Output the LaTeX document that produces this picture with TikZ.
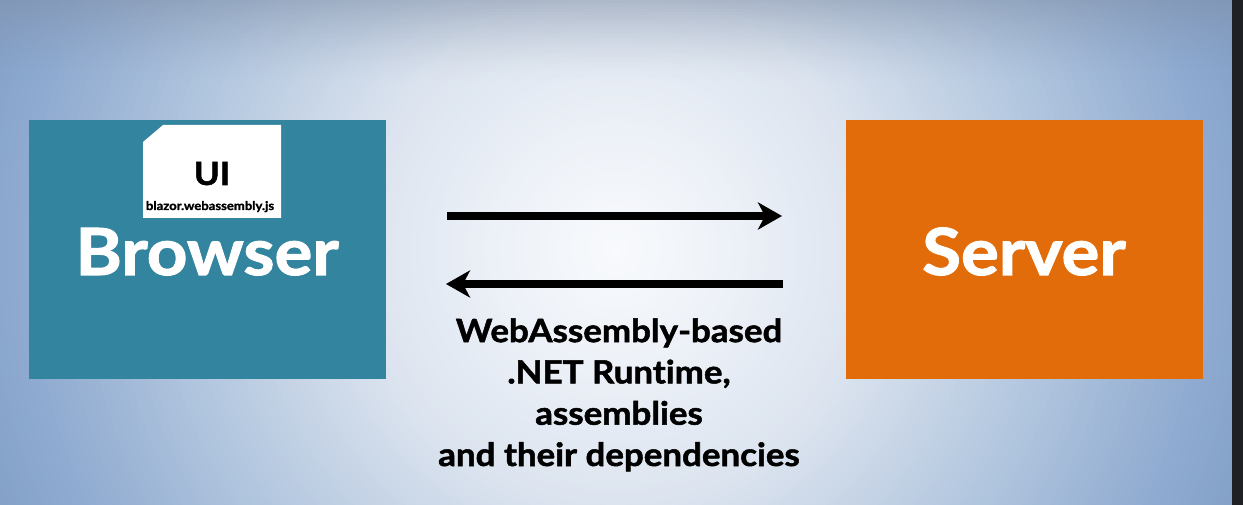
\documentclass[tikz,border=0pt]{standalone}
\usepackage{fontspec}
\setmainfont{Lato}[Ligatures=NoCommon]
\newfontfamily\heavyfont{Lato}[Ligatures=NoCommon, BoldFeatures={FakeBold=1.6, FakeStretch=1.09}]
\usetikzlibrary{arrows.meta}
\definecolor{browserc}{HTML}{33849E}
\definecolor{serverc}{HTML}{E36C0A}
\definecolor{stripc}{HTML}{1F2023}
\definecolor{bgA}{HTML}{F8FAFD}
\definecolor{bgB}{HTML}{EEF2F8}
\definecolor{bgC}{HTML}{DCE4EF}
\definecolor{bgD}{HTML}{B6C9E0}
\definecolor{bgE}{HTML}{8EAAD0}
\definecolor{bgF}{HTML}{7F9CC4}
\definecolor{topveil}{HTML}{7F8EA6}
\newcommand{\ringband}[4]{% outer radius, inner radius, outer colour, inner colour
  \foreach \t in {0,...,24}{%
    \pgfmathsetmacro\rr{#1-(#1-#2)*\t/24}%
    \pgfmathsetmacro\pp{100*\t/24}%
    \fill[#4!\pp!#3] (616,250) circle (\rr pt);}}
\tikzset{
  bigtxt/.style={text=white, font=\heavyfont\fontsize{65}{70}\selectfont\bfseries, anchor=base, inner sep=0pt},
  linktxt/.style={text=black, font=\heavyfont\fontsize{32}{41.3}\selectfont\bfseries, align=center, inner sep=0pt},
  flow/.style={line width=8pt, -{Stealth[length=24pt,width=27pt,inset=7pt]}}
}
\begin{document}
\begin{tikzpicture}[x=1pt,y=-1pt]
\useasboundingbox (0,0) rectangle (1243,505);
\begin{scope}
\clip (0,0) rectangle (1232,505);
\ringband{700}{600}{bgF}{bgE}
\ringband{600}{420}{bgE}{bgD}
\ringband{420}{255}{bgD}{bgC}
\ringband{255}{110}{bgC}{bgB}
\ringband{110}{0}{bgB}{bgA}
\foreach \k in {0,...,26}{%
  \pgfmathsetmacro\oo{0.5*(1-\k/27)^1.5}%
  \fill[topveil, opacity=\oo] (0,3*\k) rectangle (1232,3*\k+3);}
\end{scope}
\fill[stripc] (1232,0) rectangle (1243,505);
% boxes
\fill[browserc] (29,120) rectangle (386,379);
\fill[serverc] (846,120) rectangle (1203,379);
\node (browserbox) at (207.5,249.5) [minimum width=357pt, minimum height=259pt, inner sep=0pt] {};
\node (serverbox) at (1024.5,249.5) [minimum width=357pt, minimum height=259pt, inner sep=0pt] {};
% UI card
\fill[white] (163,125) -- (281,125) -- (281,218) -- (143,218) -- (143,142) -- cycle;
\node (ui) [text=black, font=\heavyfont\fontsize{32}{34}\selectfont\bfseries, anchor=base, inner sep=0pt] at (212,185) {UI};
\node (blazor) [text=black, font=\heavyfont\fontsize{12}{13}\selectfont\bfseries, anchor=base, inner sep=0pt] at (210,210) {blazor.webassembly.js};
\node (browser) [bigtxt] at (207,275) {Browser};
\node (server) [bigtxt] at (1024,275) {Server};
% arrows
\coordinate (r1) at (447,216);
\coordinate (r2) at (782,216);
\coordinate (l1) at (783,284);
\coordinate (l2) at (446,284);
\draw[flow] (r1) -- (r2);
\draw[flow] (l1) -- (l2);
\node (payload) [linktxt, anchor=base] at (619,466) {WebAssembly-based\\.NET Runtime,\\assemblies\\and their dependencies};
\end{tikzpicture}
\end{document}
